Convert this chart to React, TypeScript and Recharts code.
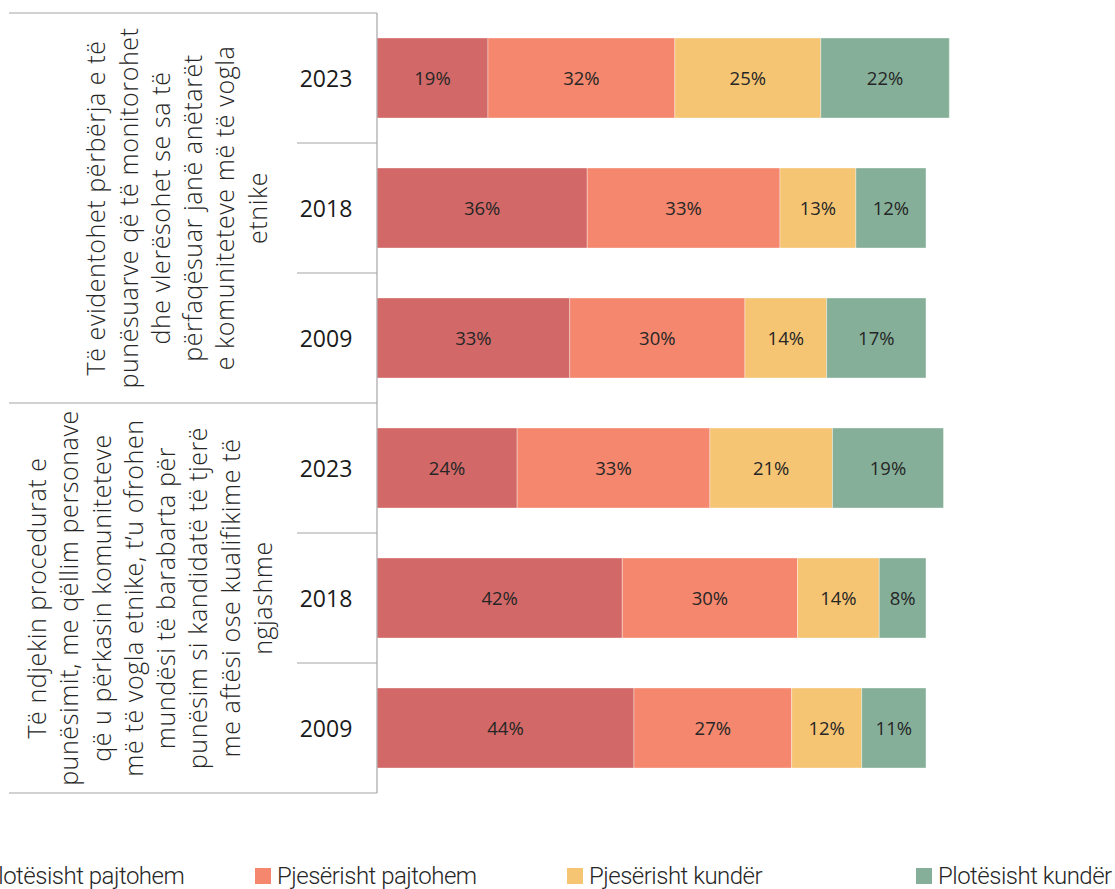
import React from 'react';
import { BarChart, Bar, XAxis, YAxis, LabelList } from 'recharts';

const years = ['2023', '2018', '2009', '2023', '2018', '2009'];
const fullyAgree = [19, 36, 33, 24, 42, 44];
const partlyAgree = [32, 33, 30, 33, 30, 27];
const partlyAgainst = [25, 13, 14, 21, 14, 12];
const fullyAgainst = [22, 12, 17, 19, 8, 11];
const seriesNames = ['Plotësisht pajtohem', 'Pjesërisht pajtohem', 'Pjesërisht kundër', 'Plotësisht kundër'];
const seriesColors = ['#D26968', '#F4876D', '#F5C574', '#85AF99'];
const groupLabels = [
  [
    'Të evidentohet përbërja e të',
    'punësuarve që të monitorohet',
    'dhe vlerësohet se sa të',
    'përfaqësuar janë anëtarët',
    'e komuniteteve më të vogla',
    'etnike',
  ],
  [
    'Të ndjekin procedurat e',
    'punësimit, me qëllim personave',
    'që u përkasin komuniteteve',
    'më të vogla etnike, t’u ofrohen',
    'mundësi të barabarta për',
    'punësim si kandidatë të tjerë',
    'me aftësi ose kualifikime të',
    'ngjashme',
  ],
];

const keys = ['a', 'b', 'c', 'd'];
const data = years.map((y, i) => ({
  key: String(i),
  year: y,
  a: fullyAgree[i],
  b: partlyAgree[i],
  c: partlyAgainst[i],
  d: fullyAgainst[i],
}));

const W = 1115;
const H = 889;
const M = { top: 13, right: 154, bottom: 96, left: 0 };
const AXIS_W = 377;
const BAND = (H - M.top - M.bottom) / years.length;
const LINE = '#A6A6A6';
const FONT = '"Open Sans", sans-serif';

const YTick = (props: any) => {
  const { y, index } = props;
  const i = Number(index);
  const half = BAND / 2;
  const els: React.ReactNode[] = [];
  els.push(
    <text key="yr" x={326} y={y} textAnchor="middle" dominantBaseline="central"
      fontFamily={FONT} fontSize={23} fill="#1a1a1a">{years[i]}</text>
  );
  if (i === 0) {
    els.push(<line key="top" x1={9} x2={AXIS_W} y1={y - half} y2={y - half} stroke={LINE} strokeWidth={1.2} />);
  }
  const groupEnd = i === 2 || i === years.length - 1;
  els.push(
    <line key="sep" x1={groupEnd ? 9 : 297} x2={AXIS_W} y1={y + half} y2={y + half} stroke={LINE} strokeWidth={1.2} />
  );
  if (i === 1 || i === 4) {
    const lines = groupLabels[i === 1 ? 0 : 1];
    const cx = i === 1 ? 176 : 149;
    const lh = 32.3;
    const x0 = cx - ((lines.length - 1) * lh) / 2;
    els.push(
      <g key="grp">
        {lines.map((t, k) => (
          <text key={k} x={x0 + k * lh} y={y} transform={`rotate(-90 ${x0 + k * lh} ${y})`}
            textAnchor="middle" dominantBaseline="central" fontFamily={FONT} fontWeight={300}
            fontSize={25} letterSpacing={0.6} fill="#262626">{t}</text>
        ))}
      </g>
    );
  }
  return <g>{els}</g>;
};

const legendX = [-38, 255, 567, 916];

export default function App() {
  return (
    <div style={{ position: 'absolute', left: 0, top: 0, width: W, height: H, background: '#fff', overflow: 'hidden' }}>
      <BarChart width={W} height={H} data={data} layout="vertical" margin={M} barSize={80}>
        <XAxis type="number" domain={[0, 100]} hide />
        <YAxis type="category" dataKey="key" width={AXIS_W} tickLine={false}
          axisLine={{ stroke: LINE, strokeWidth: 1.2 }} tick={<YTick />} interval={0} />
        {keys.map((k, s) => (
          <Bar key={k} dataKey={k} name={seriesNames[s]} stackId="s" fill={seriesColors[s]}
            stroke="#ffffff" strokeOpacity={0.35} strokeWidth={1} isAnimationActive={false}>
            <LabelList dataKey={k} position="center" formatter={(v: any) => `${v}%`}
              fill="#262626" fontSize={18.5} fontFamily={FONT} />
          </Bar>
        ))}
      </BarChart>
      {seriesNames.map((n, s) => (
        <div key={n} style={{ position: 'absolute', left: legendX[s], top: 863, display: 'flex', alignItems: 'center', whiteSpace: 'nowrap' }}>
          <span style={{ display: 'inline-block', width: 16, height: 16, background: seriesColors[s], marginRight: 6 }} />
          <span style={{ fontFamily: 'Roboto, sans-serif', fontWeight: 300, fontSize: 24, color: '#262626', lineHeight: '26px', letterSpacing: -0.5 }}>{n}</span>
        </div>
      ))}
    </div>
  );
}
